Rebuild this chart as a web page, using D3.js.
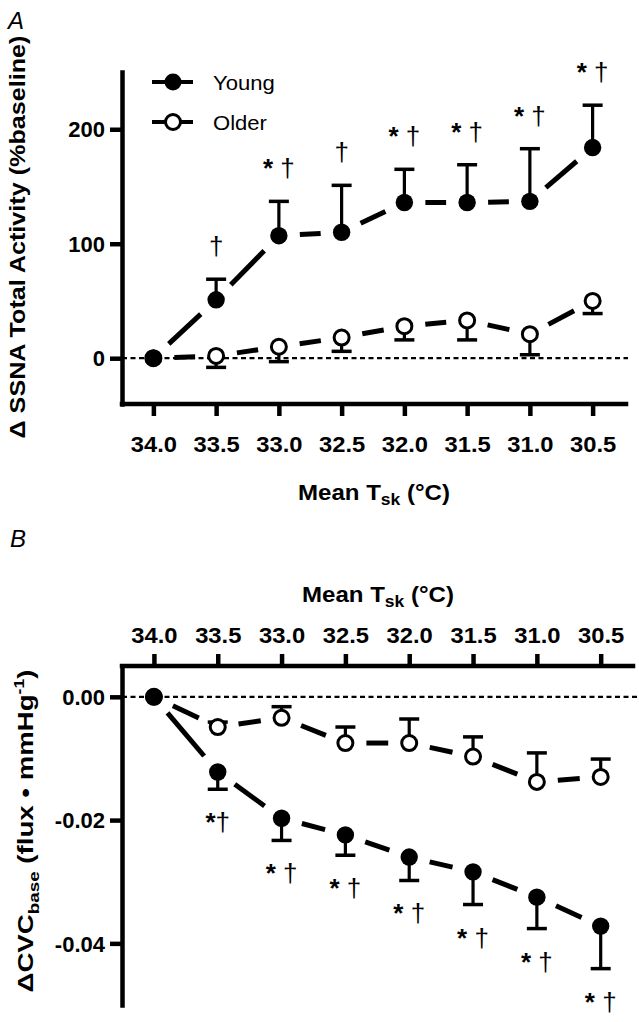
<!DOCTYPE html>
<html><head><meta charset="utf-8">
<script src="https://cdn.jsdelivr.net/npm/d3@7"></script>
<style>
html,body{margin:0;padding:0;background:#fff;}
svg{display:block;font-family:"Liberation Sans", Arial, Helvetica, sans-serif;}
</style></head><body>
<svg id="chart" width="639" height="1022"></svg>
<script>
// ---------- data ----------
const temps = [34.0, 33.5, 33.0, 32.5, 32.0, 31.5, 31.0, 30.5];
const tempLabels = ["34.0", "33.5", "33.0", "32.5", "32.0", "31.5", "31.0", "30.5"];

// Panel A: change in SSNA total activity (% baseline)
const ssnaYoung    = [0, 51, 107, 110, 136, 136, 137, 184];
const ssnaYoungSem = [0, 18, 30, 41, 29, 33, 46, 37];
const ssnaOlder    = [0, 2, 10, 18, 28, 33, 21, 50];
const ssnaOlderSem = [0, 10, 13, 12, 12, 17, 18, 11];
const ssnaSig      = ["", "†", "* †", "†", "* †", "* †", "* †", "* †"];
const ssnaTicks      = [0, 100, 200];
const ssnaTickLabels = ["0", "100", "200"];

// Panel B: change in CVC base (flux · mmHg-1)
const cvcYoung    = [0, -0.0122, -0.0197, -0.0224, -0.0260, -0.0284, -0.0325, -0.0372];
const cvcYoungSem = [0, 0.0028, 0.0036, 0.0033, 0.0038, 0.0053, 0.0051, 0.0069];
const cvcOlder    = [0, -0.0049, -0.0034, -0.0075, -0.0075, -0.0097, -0.0138, -0.0130];
const cvcOlderSem = [0, 0.0008, 0.0018, 0.0026, 0.0039, 0.0032, 0.0047, 0.0029];
const cvcSig      = ["", "*†", "* †", "* †", "* †", "* †", "* †", "* †"];
const cvcTicks      = [0, -0.02, -0.04];
const cvcTickLabels = ["0.00", "-0.02", "-0.04"];

const seriesNames = ["Young", "Older"];

// ---------- drawing ----------
const svg = d3.select("#chart");

function styleAxis(ax, fontSize) {
  ax.attr("font-family", null).attr("font-size", null);
  ax.select(".domain").attr("stroke", "#000").attr("stroke-width", 4.5).attr("stroke-linecap", "square");
  ax.selectAll(".tick line").attr("stroke", "#000").attr("stroke-width", 4.5);
  ax.selectAll(".tick text").attr("fill", "#000").attr("font-size", fontSize).attr("font-weight", "bold");
}

function drawPanel(p) {
  const g = svg.append("g");
  const x = p.x, y = p.y;
  const x0 = x.range()[0];

  // zero reference line
  g.append("line")
    .attr("x1", x0).attr("x2", p.zeroEnd)
    .attr("y1", y(0)).attr("y2", y(0))
    .attr("stroke", "#000").attr("stroke-width", 2.2).attr("stroke-dasharray", "5,3.5");

  // x axis
  const xAxis = (p.top ? d3.axisTop(x) : d3.axisBottom(x))
    .tickValues(temps).tickFormat((d, i) => tempLabels[i])
    .tickSize(12).tickSizeOuter(0);
  const xg = g.append("g").attr("transform", `translate(0,${p.axisY})`).call(xAxis);
  styleAxis(xg, 22);
  xg.select(".domain").attr("d", `M${x0},0H${p.axisEnd}`);
  xg.selectAll(".tick text")
    .attr("y", p.top ? -23 : 48).attr("dy", 0)
    .attr("transform", "scale(1.08,1)");

  // y axis
  const yAxis = d3.axisLeft(y).tickValues(p.yTicks)
    .tickFormat((d, i) => p.yTickLabels[i]).tickSize(12).tickSizeOuter(0);
  const yg = g.append("g").attr("transform", `translate(${x0},0)`).call(yAxis);
  styleAxis(yg, 22);
  yg.selectAll(".tick text").attr("x", -17).attr("dy", "0.35em");

  // connecting dashed lines (one dash per segment, trimmed near markers)
  function segs(vals) {
    const out = [];
    for (let i = 0; i < vals.length - 1; i++) {
      const ax = x(temps[i]), ay = y(vals[i]), bx = x(temps[i + 1]), by = y(vals[i + 1]);
      const dx = bx - ax, dy = by - ay, len = Math.hypot(dx, dy), trim = 21;
      if (len <= 2 * trim + 2) continue;
      const ux = dx / len, uy = dy / len;
      out.push([ax + ux * trim, ay + uy * trim, bx - ux * trim, by - uy * trim]);
    }
    return out;
  }
  [p.older, p.young].forEach(vals => {
    g.selectAll(null).data(segs(vals)).enter().append("line")
      .attr("x1", d => d[0]).attr("y1", d => d[1]).attr("x2", d => d[2]).attr("y2", d => d[3])
      .attr("stroke", "#000").attr("stroke-width", 5);
  });

  // error bars
  function errs(vals, sems, dir) {
    const eg = g.append("g");
    const data = vals.map((v, i) => ({ t: temps[i], v, e: v + dir * sems[i], s: sems[i] })).filter(d => d.s > 0);
    eg.selectAll(".ev").data(data).enter().append("line")
      .attr("x1", d => x(d.t)).attr("x2", d => x(d.t))
      .attr("y1", d => y(d.v)).attr("y2", d => y(d.e))
      .attr("stroke", "#000").attr("stroke-width", 3.2);
    eg.selectAll(".ec").data(data).enter().append("line")
      .attr("x1", d => x(d.t) - 10).attr("x2", d => x(d.t) + 10)
      .attr("y1", d => y(d.e)).attr("y2", d => y(d.e))
      .attr("stroke", "#000").attr("stroke-width", 3.5);
  }
  errs(p.older, p.olderSem, p.olderDir);
  errs(p.young, p.youngSem, p.youngDir);

  // markers
  g.selectAll(null).data(p.older.map((v, i) => [temps[i], v])).enter().append("circle")
    .attr("cx", d => x(d[0])).attr("cy", d => y(d[1])).attr("r", 7.5)
    .attr("fill", "#fff").attr("stroke", "#000").attr("stroke-width", 3);
  g.selectAll(null).data(p.young.map((v, i) => [temps[i], v])).enter().append("circle")
    .attr("cx", d => x(d[0])).attr("cy", d => y(d[1])).attr("r", 8.7)
    .attr("fill", "#000");

  // significance annotations
  p.sig.forEach((s, i) => {
    if (!s) return;
    const end = p.young[i] + p.youngDir * p.youngSem[i];
    const ty = y(end) + p.sigOffset;
    const t = g.append("text").attr("x", x(temps[i])).attr("y", ty)
      .attr("text-anchor", "middle").attr("font-size", 26).attr("fill", "#000");
    for (const ch of s) {
      t.append("tspan").attr("font-weight", ch === "*" ? "bold" : "normal").text(ch);
    }
  });

  // x-axis title "Mean Tsk (°C)"
  const xt = g.append("text").attr("text-anchor", "middle").attr("font-weight", "bold")
    .attr("font-size", 22).attr("fill", "#000");
  xt.append("tspan").text("Mean T");
  xt.append("tspan").attr("font-size", 16).attr("dy", 5).text("sk");
  xt.append("tspan").attr("dy", -5).text(" (°C)");
  const xk = 152 / xt.node().getBBox().width;
  xt.attr("transform", `translate(${p.xTitleX},${p.xTitleY}) scale(${xk},1)`);

  return g;
}

function rotTitle(build, cx, cy, target) {
  const t = svg.append("text").attr("text-anchor", "middle").attr("font-weight", "bold")
    .attr("font-size", 22).attr("fill", "#000");
  build(t);
  const k = target / t.node().getBBox().width;
  t.attr("transform", `translate(${cx},${cy}) rotate(-90) scale(${k},1)`);
}

// ----- Panel A -----
const xA = d3.scaleLinear().domain([34.25, 30.25]).range([122, 624]);
const yA = d3.scaleLinear().domain([-40, 250]).range([404, 72]);
drawPanel({
  x: xA, y: yA, top: false, axisY: 404, axisEnd: 626, zeroEnd: 628,
  yTicks: ssnaTicks, yTickLabels: ssnaTickLabels,
  young: ssnaYoung, youngSem: ssnaYoungSem, youngDir: 1,
  older: ssnaOlder, olderSem: ssnaOlderSem, olderDir: -1,
  sig: ssnaSig, sigOffset: -24,
  xTitleX: 374, xTitleY: 500
});
rotTitle(t => t.text("Δ SSNA Total Activity (%baseline)"), 25, 237, 403);

// ----- Panel B -----
const xB = d3.scaleLinear().domain([34.25, 30.25]).range([122, 632.6]);
const yB = d3.scaleLinear().domain([-0.05, 0.005]).range([1005, 666]);
drawPanel({
  x: xB, y: yB, top: true, axisY: 666, axisEnd: 633, zeroEnd: 639,
  yTicks: cvcTicks, yTickLabels: cvcTickLabels,
  young: cvcYoung, youngSem: cvcYoungSem, youngDir: -1,
  older: cvcOlder, olderSem: cvcOlderSem, olderDir: 1,
  sig: cvcSig, sigOffset: 42,
  xTitleX: 378, xTitleY: 602
});
rotTitle(t => {
  t.append("tspan").text("ΔCVC");
  t.append("tspan").attr("font-size", 15).attr("dy", 6).text("base");
  t.append("tspan").attr("dy", -6).text(" (flux • mmHg");
  t.append("tspan").attr("font-size", 14).attr("dy", -9).text("-1");
  t.append("tspan").attr("dy", 9).text(")");
}, 33, 831, 323);

// ----- Legend (panel A) -----
const leg = svg.append("g");
seriesNames.forEach((name, i) => {
  const ly = 82 + i * 40;
  leg.append("line").attr("x1", 152).attr("x2", 193).attr("y1", ly).attr("y2", ly)
    .attr("stroke", "#000").attr("stroke-width", 4);
  leg.append("circle").attr("cx", 173).attr("cy", ly).attr("r", i === 0 ? 8.5 : 7.5)
    .attr("fill", i === 0 ? "#000" : "#fff").attr("stroke", "#000").attr("stroke-width", i === 0 ? 0 : 3);
  leg.append("text").attr("x", 0).attr("y", 0).attr("font-size", 21).attr("fill", "#000")
    .attr("transform", `translate(213,${ly + 8}) scale(1.05,1)`).text(name);
});

// ----- Panel letters -----
svg.append("text").attr("x", 8).attr("y", 29).attr("font-size", 24).attr("font-style", "italic").text("A");
svg.append("text").attr("x", 10).attr("y", 547).attr("font-size", 24).attr("font-style", "italic").text("B");
</script>
</body></html>
